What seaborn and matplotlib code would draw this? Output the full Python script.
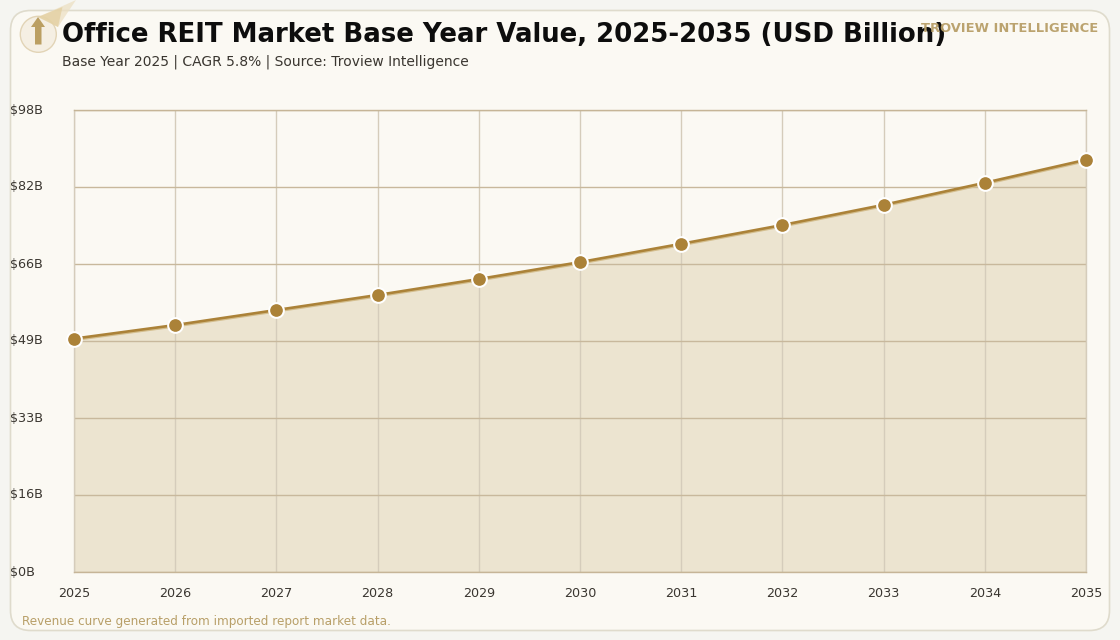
import matplotlib
matplotlib.use("Agg")
import matplotlib.pyplot as plt
import pandas as pd
import seaborn as sns
from matplotlib.patches import Circle, FancyBboxPatch, Polygon

years = [2025, 2026, 2027, 2028, 2029, 2030, 2031, 2032, 2033, 2034, 2035]
revenue = [49.7, 52.6, 55.8, 59.0, 62.4, 66.0, 69.9, 73.9, 78.2, 82.9, 87.8]
y_ticks = [0, 16.4, 32.8, 49.2, 65.6, 82.0, 98.4]
y_tick_labels = ["$0B", "$16B", "$33B", "$49B", "$66B", "$82B", "$98B"]

title = "Office REIT Market Base Year Value, 2025-2035 (USD Billion)"
subtitle = "Base Year 2025 | CAGR 5.8% | Source: Troview Intelligence"
brand = "TROVIEW INTELLIGENCE"
footnote = "Revenue curve generated from imported report market data."

W, H = 1120, 640
PAGE = "#f5f5f1"
CARD = "#fbf9f3"
GOLD = "#ab8238"
TAN = "#b89f68"
INK = "#3a3630"

sns.set_theme(style="white")
plt.rcParams["font.family"] = ["DejaVu Sans"]

fig = plt.figure(figsize=(W / 100, H / 100), dpi=100, facecolor=PAGE)

# Backing layer in pixel coordinates: card, emblem and header text
bg = fig.add_axes([0, 0, 1, 1], zorder=0)
bg.set_xlim(0, W)
bg.set_ylim(H, 0)
bg.axis("off")
bg.add_patch(FancyBboxPatch((30.5, 30.5), 1059, 580,
                            boxstyle="round,pad=20,rounding_size=20",
                            fc=CARD, ec="#dfdbcc", lw=1.2))
bg.add_patch(Circle((38.3, 34.3), 18, fc="#f5efe3", ec="#e2d4b6", lw=1))
bg.add_patch(Polygon([[38, 17], [76, 0], [58, 27]], fc="#ecdfc0", alpha=0.7, lw=0, clip_on=False))
bg.add_patch(Polygon([[38, 17], [62.5, 7], [58, 27]], fc="#e3cf9f", alpha=0.75, lw=0))
bg.add_patch(Polygon([[38, 17], [45, 27], [41.5, 27], [41.5, 44.5], [35, 44.5], [35, 27], [31, 27]],
                     fc="#bb9f62", lw=0))
bg.text(62, 34.5, title, fontsize=18.72, fontweight="bold", color="#0d0d0d", ha="left", va="center")
bg.text(62, 62, subtitle, fontsize=10.0, color=INK, ha="left", va="center")
bg.text(1098, 28.5, brand, fontsize=9.35, fontweight="bold", color=TAN, ha="right", va="center",
        alpha=0.95)
bg.text(22, 622, footnote, fontsize=8.65, color=TAN, ha="left", va="center")

# Revenue chart
left, right, top, bottom = 74, 1086, 110, 572
ax = fig.add_axes([left / W, 1 - bottom / H, (right - left) / W, (bottom - top) / H],
                  zorder=1, facecolor="none")
df = pd.DataFrame({"year": years, "revenue": revenue})

ax.fill_between(df["year"], df["revenue"], 0, color="#e3d6ba", alpha=0.6, lw=0, zorder=1)

# Soft under-stroke beneath the main line
sns.lineplot(data=df, x="year", y="revenue", ax=ax, color="#d3bd8c", lw=1.9, zorder=2.6,
             transform=ax.transData + matplotlib.transforms.Affine2D().translate(0, -1.2))
sns.lineplot(data=df, x="year", y="revenue", ax=ax, color=GOLD, lw=1.9, zorder=3,
             marker="o", markersize=10.6, markerfacecolor=GOLD,
             markeredgecolor="white", markeredgewidth=1.45, clip_on=False)

ax.set_xlim(years[0], years[-1])
ax.set_ylim(y_ticks[0], y_ticks[-1])
ax.set_xticks(years)
ax.set_xticklabels([str(y) for y in years])
ax.set_yticks(y_ticks)
ax.set_yticklabels(y_tick_labels)
ax.set_xlabel("")
ax.set_ylabel("")
ax.set_axisbelow("line")
ax.grid(axis="y", color="#c8b89c", lw=1)
ax.grid(axis="x", color="#d5ccbb", lw=1)
for side in ("top", "bottom"):
    ax.spines[side].set_visible(True)
    ax.spines[side].set_color("#c6b597")
    ax.spines[side].set_linewidth(1)
for side in ("left", "right"):
    ax.spines[side].set_visible(True)
    ax.spines[side].set_color("#d5ccbb")
    ax.spines[side].set_linewidth(1)
ax.tick_params(axis="x", length=0, pad=11, labelsize=9.2, labelcolor=INK)
ax.tick_params(axis="y", length=0, pad=46, labelsize=9.2, labelcolor=INK)
for lab in ax.get_yticklabels():
    lab.set_ha("left")
    lab.set_va("center")

fig.savefig("out.png", dpi=100, facecolor=PAGE)
